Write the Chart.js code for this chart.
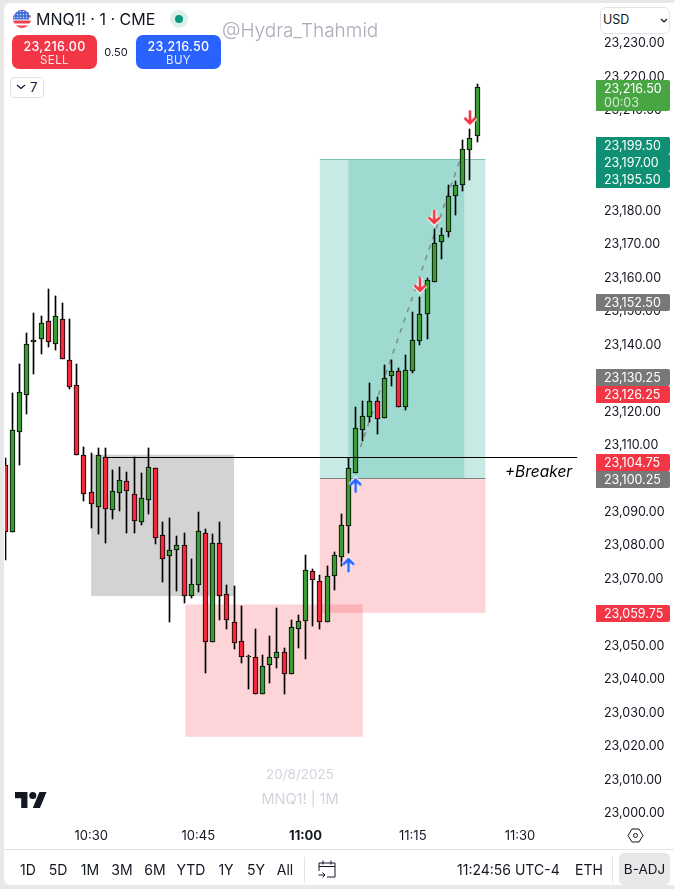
<!DOCTYPE html>
<html>
<head>
<meta charset="utf-8">
<title>MNQ1! 1 CME</title>
<script src="https://cdn.jsdelivr.net/npm/chart.js@4"></script>
<style>
html, body { margin: 0; padding: 0; width: 674px; height: 889px; overflow: hidden; background: #e8e8e8; font-family: Inter, sans-serif; color: #131722; }
#panel { position: absolute; left: 4px; top: 3px; width: 670px; height: 882px; background: #fff; border-radius: 6px 0 0 6px; }
#chartBox { position: absolute; left: 0; top: 0; width: 674px; height: 849px; }
.t { position: absolute; white-space: nowrap; line-height: 1; }
.c { transform: translateX(-50%); text-align: center; }
.btn { position: absolute; top: 35px; width: 85px; height: 34px; border-radius: 7px; color: #fff; }
.btn .p { position: absolute; left: 0; right: 0; top: 4px; text-align: center; font-size: 12.5px; font-weight: 500; letter-spacing: 0.35px; }
.btn .l { position: absolute; left: 0; right: 0; top: 18px; text-align: center; font-size: 11.5px; opacity: .85; letter-spacing: 0.4px; }
.range { top: 863px; font-size: 14px; }
</style>
</head>
<body>
<div id="panel"></div>
<div id="chartBox"><canvas id="priceChart" width="674" height="849"></canvas></div>

<!-- header -->
<svg style="position:absolute;left:13px;top:10px" width="18" height="18" viewBox="0 0 18 18">
  <defs>
    <clipPath id="fl"><circle cx="9" cy="9" r="9"/></clipPath>
    <pattern id="stars" width="3" height="3" patternUnits="userSpaceOnUse"><circle cx="1.5" cy="1.5" r=".7" fill="#dfe7fb"/></pattern>
  </defs>
  <g clip-path="url(#fl)">
    <rect width="18" height="18" fill="#fff"/>
    <rect y="0" width="18" height="2.5" fill="#f0404f"/><rect y="5" width="18" height="2.5" fill="#f0404f"/>
    <rect y="10.5" width="18" height="3" fill="#f0404f"/><rect y="15.5" width="18" height="3" fill="#f0404f"/>
    <rect width="16" height="9.5" fill="#3f6fd8"/>
    <rect width="16" height="9.5" fill="url(#stars)"/>
  </g>
</svg>
<div class="t" style="left:36px;top:11px;font-size:16px">MNQ1! · 1 · CME</div>
<div style="position:absolute;left:170px;top:10px;width:18px;height:18px;border-radius:50%;background:#dcefeb"></div>
<div style="position:absolute;left:175px;top:15px;width:8px;height:8px;border-radius:50%;background:#089981"></div>
<div class="btn" style="left:12px;background:#f23645"><div class="p">23,216.00</div><div class="l">SELL</div></div>
<div class="t c" style="left:116px;top:47px;font-size:11px">0.50</div>
<div class="btn" style="left:136px;background:#2962ff"><div class="p">23,216.50</div><div class="l">BUY</div></div>
<div class="t" style="left:222px;top:21px;font-size:19px;font-weight:300;color:#a9adb8">@Hydra_Thahmid</div>
<div style="position:absolute;left:10px;top:77px;width:32px;height:19px;border:1px solid #dfe1e6;border-radius:4px;background:#fff"></div>
<svg style="position:absolute;left:16px;top:84px" width="10" height="6"><path d="M1 1l4 3.5L9 1" fill="none" stroke="#131722" stroke-width="1.2"/></svg>
<div class="t" style="left:30px;top:81px;font-size:13px">7</div>

<div style="position:absolute;left:600px;top:7px;width:68px;height:25px;border:1px solid #e0e3eb;border-radius:6px;background:#fff"></div>
<div class="t" style="left:603px;top:14px;font-size:12.5px">USD</div>
<svg style="position:absolute;left:660px;top:18px" width="8" height="6"><path d="M1 1l3 3 3-3" fill="none" stroke="#131722" stroke-width="1.2"/></svg>

<!-- watermark and logo -->
<div class="t c" style="left:300px;top:768px;font-size:13.5px;color:#d1d4dc">20/8/2025</div>
<div class="t c" style="left:300px;top:792px;font-size:14.5px;color:#d1d4dc">MNQ1! | 1M</div>
<svg style="position:absolute;left:15px;top:789px" width="32" height="22" viewBox="0 2 36 22">
  <path d="M14 22H7V11H0V4h14v18zM28 22h-8l7.5-18h8L28 22z" fill="#131722"/><circle cx="20" cy="8" r="4" fill="#131722"/>
</svg>
<svg style="position:absolute;left:627px;top:827px" width="17" height="17" viewBox="0 0 17 17">
  <path d="M5 2h7l4 6.5-4 6.5H5L1 8.5z" fill="none" stroke="#131722"/><circle cx="8.5" cy="8.5" r="2" fill="none" stroke="#131722"/>
</svg>

<!-- bottom bar -->
<div style="position:absolute;left:4px;right:0;top:849px;height:1px;background:#e0e3eb"></div>
<div class="t c range" style="left:28px">1D</div>
<div class="t c range" style="left:58px">5D</div>
<div class="t c range" style="left:90px">1M</div>
<div class="t c range" style="left:122px">3M</div>
<div class="t c range" style="left:155px">6M</div>
<div class="t c range" style="left:191px">YTD</div>
<div class="t c range" style="left:226px">1Y</div>
<div class="t c range" style="left:256px">5Y</div>
<div class="t c range" style="left:285px">All</div>
<div style="position:absolute;left:304px;top:857px;width:1px;height:26px;background:#e0e3eb"></div>
<svg style="position:absolute;left:318px;top:859px" width="18" height="20" viewBox="0 0 18 20">
  <path d="M1 12V4h16v14H9M1 7.5h16M5 1.5v4M13 1.5v4M0.5 16h6M4.5 13.5L7 16l-2.5 2.5" fill="none" stroke="#131722"/>
</svg>
<div class="t" style="left:457px;top:863px;font-size:14px">11:24:56 UTC-4</div>
<div class="t" style="left:575px;top:863px;font-size:14px">ETH</div>
<div style="position:absolute;left:612px;top:857px;width:1px;height:26px;background:#e0e3eb"></div>
<div style="position:absolute;left:619px;top:853px;width:51px;height:32px;border-radius:5px;background:#e8e8e8"></div>
<div class="t c" style="left:644.5px;top:863px;font-size:13.5px">B-ADJ</div>

<script>
// candles, 1 minute each
const candleTimes = [
    '10:18', '10:19', '10:20', '10:21', '10:22', '10:23', '10:24', '10:25', '10:26', '10:27', '10:28', '10:29',
    '10:30', '10:31', '10:32', '10:33', '10:34', '10:35', '10:36', '10:37', '10:38', '10:39', '10:40', '10:41',
    '10:42', '10:43', '10:44', '10:45', '10:46', '10:47', '10:48', '10:49', '10:50', '10:51', '10:52', '10:53',
    '10:54', '10:55', '10:56', '10:57', '10:58', '10:59', '11:00', '11:01', '11:02', '11:03', '11:04', '11:05',
    '11:06', '11:07', '11:08', '11:09', '11:10', '11:11', '11:12', '11:13', '11:14', '11:15', '11:16', '11:17',
    '11:18', '11:19', '11:20', '11:21', '11:22', '11:23', '11:24'
];
const opens = [
    23103.75, 23083.75, 23113.5, 23124.5, 23140.5, 23141.25, 23146.75, 23139.75, 23147.25, 23135, 23127.5, 23106.5,
    23095.5, 23091, 23106, 23090.25, 23095.25, 23099, 23095, 23086.5, 23093.25, 23102.75, 23082.75, 23076.5,
    23078.25, 23079.75, 23064.5, 23067.75, 23083.25, 23050.75, 23080.5, 23065, 23056.75, 23051, 23046.5, 23046.25,
    23035.25, 23044, 23046, 23047.75, 23041.25, 23054.75, 23057, 23072, 23069, 23056.75, 23070.5, 23076.25,
    23085.5, 23101.25, 23114, 23118, 23122.75, 23117.75, 23130.25, 23131.75, 23121, 23131.75, 23140.75, 23148.75,
    23158.25, 23170.25, 23173.25, 23184, 23187.25, 23197.75, 23202
];
const highs = [
    23105.75, 23125.25, 23133.75, 23143, 23149, 23148.25, 23156.25, 23154, 23152, 23147.25, 23133.75, 23109,
    23107.25, 23108.75, 23108.75, 23102.25, 23103, 23101.5, 23106, 23101.25, 23108.75, 23102.75, 23086.5, 23087.75,
    23082.5, 23083.25, 23075.5, 23089.5, 23084.5, 23083, 23086.5, 23067.75, 23067.5, 23061.5, 23047, 23054.75,
    23047, 23052.5, 23061, 23049, 23057.5, 23058.75, 23076.75, 23072.5, 23070.75, 23073.5, 23077.75, 23089,
    23105.75, 23121, 23122.75, 23128, 23124, 23133.5, 23135, 23132.5, 23136.5, 23149.5, 23153.75, 23159.5,
    23174, 23174.5, 23187.25, 23188.5, 23200.75, 23204, 23217.5
];
const lows = [
    23075.25, 23083.75, 23103.75, 23119, 23130.75, 23136.75, 23139, 23138, 23135.25, 23126.5, 23106.5, 23093,
    23084.75, 23083, 23080.5, 23087.5, 23090, 23083.25, 23083.25, 23085.75, 23089, 23080, 23068.75, 23056.75,
    23066, 23062.5, 23064, 23065.75, 23041.5, 23050.75, 23057.5, 23054.75, 23048.75, 23044.5, 23036.75, 23035.25,
    23035.25, 23038.5, 23043, 23035.25, 23041.25, 23049, 23045.75, 23055.5, 23054.75, 23056.75, 23066.25, 23073.5,
    23077.5, 23101.25, 23110.75, 23116.5, 23113, 23117.75, 23127.25, 23121, 23120, 23131, 23139.5, 23141.25,
    23158.25, 23165.25, 23171.75, 23178.25, 23185.5, 23188.75, 23200
];
const closes = [
    23083.75, 23114, 23125.5, 23139.75, 23141, 23146, 23140.5, 23148.25, 23135.25, 23127, 23106.5, 23095,
    23092, 23106.5, 23090.5, 23096, 23099.25, 23096, 23087, 23093.75, 23103, 23082, 23075.5, 23078.25,
    23079.75, 23064.5, 23068, 23084, 23050.75, 23080.5, 23064.5, 23057.5, 23050.5, 23046.25, 23046.5, 23035.25,
    23043.5, 23046.25, 23047.75, 23041.25, 23055.25, 23057, 23072.25, 23069.25, 23056.75, 23070.5, 23076.75, 23085.75,
    23102.75, 23114.75, 23118.25, 23122.75, 23117.5, 23129.5, 23131.75, 23121, 23132, 23141, 23148.75, 23159,
    23170, 23172.5, 23184, 23187.25, 23198, 23201.25, 23216.5
];

// right axis tags, top to bottom
const tagPrices = [23216.5, 23199.5, 23197, 23195.5, 23152.5, 23130.25, 23126.25, 23104.75, 23100.25, 23059.75];
const tagKinds = ['last', 'teal', 'teal', 'teal', 'gray', 'gray', 'red', 'red', 'gray', 'red'];
const countdown = '00:03';

// drawn zones: [from, to, top price, bottom price]
const grayZone = ['10:30', '10:50', 23106.75, 23064.5];
const demandZone = ['10:43.2', '11:08', 23062, 23022.5];
const targetZone = ['11:02', '11:25.15', 23195, 23099.75];
const targetInner = ['11:06', '11:22.2', 23195, 23099.75];
const stopZone = ['11:02', '11:25.15', 23099.75, 23059.5];
const breakerTimes = ['10:32', '11:38'];
const breakerPrice = 23105.9;
const breakerLabel = '+Breaker';

// dashed line across the run up
const pathTimes = ['11:07.67', '11:21.6'];
const pathPrices = [23109, 23194.75];

// trade arrows
const buyTimes = ['11:07', '11:06'];
const buyPrices = [23097.5, 23073.75];
const sellTimes = ['11:23', '11:18', '11:16'];
const sellPrices = [23207.5, 23177.75, 23157.5];

const UP = '#3d9b35', DOWN = '#f02a3c', TEAL = '#0f8f74', GRAY = '#787878', RED = '#f23645', LAST = '#49a544';

function mins(s) {
    const p = s.split(':');
    return +p[0] * 60 + +p[1];
}
function fmtPrice(v) {
    return v.toLocaleString('en-US', { minimumFractionDigits: 2, maximumFractionDigits: 2 });
}
function fmtTime(v) {
    return Math.floor(v / 60) + ':' + String(v % 60).padStart(2, '0');
}

function makeArrow(color, up) {
    const c = document.createElement('canvas');
    c.width = 18;
    c.height = 20;
    const g = c.getContext('2d');
    if (!up) { g.translate(0, 20); g.scale(1, -1); }
    const shape = function () {
        g.beginPath();
        g.moveTo(9, 17);
        g.lineTo(9, 4);
        g.moveTo(3.5, 9.5);
        g.lineTo(9, 4);
        g.lineTo(14.5, 9.5);
        g.stroke();
    };
    g.strokeStyle = 'rgba(255,255,255,.9)';
    g.lineWidth = 5;
    shape();
    g.strokeStyle = color;
    g.lineWidth = 2.6;
    shape();
    return c;
}

// snap bars to whole pixels so the candles stay crisp
const snapBars = {
    id: 'snapBars',
    afterDatasetsUpdate(chart) {
        chart.data.datasets.forEach((ds, i) => {
            if (ds.type !== 'bar') return;
            chart.getDatasetMeta(i).data.forEach(el => {
                el.x = Math.round(el.x - 0.5) + 0.5;
                el.y = Math.round(el.y);
                el.base = Math.round(el.base);
                if (el.y === el.base) el.base = el.y + 1;
                el.height = el.base - el.y;
            });
        });
    }
};

const zones = {
    id: 'zones',
    beforeDatasetsDraw(chart) {
        const { ctx, scales: { x, y }, chartArea } = chart;
        const box = (z, color) => {
            const x0 = x.getPixelForValue(mins(z[0]));
            const x1 = x.getPixelForValue(mins(z[1]));
            const y0 = y.getPixelForValue(z[2]);
            const y1 = y.getPixelForValue(z[3]);
            ctx.fillStyle = color;
            ctx.fillRect(x0, y0, x1 - x0, y1 - y0);
        };
        ctx.save();
        ctx.beginPath();
        ctx.rect(chartArea.left, chartArea.top, chartArea.width, chartArea.height);
        ctx.clip();
        box(grayZone, '#d3d3d3');
        box(demandZone, 'rgba(247,82,95,.25)');
        box(stopZone, 'rgba(247,82,95,.25)');
        box(targetZone, 'rgba(34,171,148,.25)');
        box(targetInner, 'rgba(34,171,148,.25)');

        const tx0 = x.getPixelForValue(mins(targetZone[0]));
        const tx1 = x.getPixelForValue(mins(targetZone[1]));
        const topY = Math.round(y.getPixelForValue(targetZone[2])) + 0.5;
        const entryY = Math.round(y.getPixelForValue(targetZone[3])) + 0.5;
        ctx.lineWidth = 1;
        ctx.strokeStyle = '#7fc4b8';
        ctx.beginPath();
        ctx.moveTo(tx0, topY);
        ctx.lineTo(tx1, topY);
        ctx.stroke();
        ctx.strokeStyle = '#808080';
        ctx.beginPath();
        ctx.moveTo(tx0, entryY);
        ctx.lineTo(tx1, entryY);
        ctx.stroke();
        ctx.restore();
    },
    afterDatasetsDraw(chart) {
        const { ctx, scales: { x, y } } = chart;
        const by = Math.round(y.getPixelForValue(breakerPrice)) + 0.5;
        const x0 = x.getPixelForValue(mins(breakerTimes[0]));
        const x1 = x.getPixelForValue(mins(breakerTimes[1]));
        ctx.save();
        ctx.strokeStyle = '#000';
        ctx.lineWidth = 1;
        ctx.beginPath();
        ctx.moveTo(x0, by);
        ctx.lineTo(x1, by);
        ctx.stroke();
        ctx.fillStyle = '#000';
        ctx.font = 'italic 15.5px Inter, sans-serif';
        ctx.textAlign = 'right';
        ctx.textBaseline = 'middle';
        ctx.fillText(breakerLabel, x1 - 5, by + 15);
        ctx.restore();
    }
};

const priceTags = {
    id: 'priceTags',
    afterDraw(chart) {
        const { ctx, scales: { y }, chartArea } = chart;
        const colors = { last: LAST, teal: TEAL, gray: GRAY, red: RED };
        const left = chartArea.right;
        let next = -100;
        ctx.save();
        ctx.textBaseline = 'middle';
        ctx.textAlign = 'left';
        tagPrices.forEach((p, i) => {
            const h = tagKinds[i] === 'last' ? 31 : 17;
            const top = Math.max(Math.round(y.getPixelForValue(p) - 7), next);
            next = top + h;
            ctx.fillStyle = colors[tagKinds[i]];
            ctx.beginPath();
            ctx.roundRect(left, top, 74, h, [0, 2, 2, 0]);
            ctx.fill();
            ctx.fillStyle = '#fff';
            ctx.font = '12.5px Inter, sans-serif';
            ctx.fillText(fmtPrice(p), left + 8, top + 9);
            if (tagKinds[i] === 'last') {
                ctx.fillStyle = 'rgba(255,255,255,.75)';
                ctx.fillText(countdown, left + 8, top + 23);
            }
        });
        ctx.restore();
    }
};

const ctxPrice = document.getElementById('priceChart');
new Chart(ctxPrice, {
    type: 'bar',
    data: {
        datasets: [
            {
                type: 'line',
                data: pathTimes.map((t, i) => ({ x: mins(t), y: pathPrices[i] })),
                borderColor: 'rgba(125,125,125,.85)',
                borderWidth: 1.5,
                borderDash: [5, 6],
                pointRadius: 0,
                order: 4
            },
            {
                type: 'bar',
                data: candleTimes.map((t, i) => ({ x: mins(t), y: [lows[i], highs[i]] })),
                backgroundColor: '#000',
                borderWidth: 0,
                barThickness: 1,
                grouped: false,
                order: 3
            },
            {
                type: 'bar',
                data: candleTimes.map((t, i) => ({ x: mins(t), y: [opens[i], closes[i]] })),
                backgroundColor: candleTimes.map((t, i) => closes[i] >= opens[i] ? UP : DOWN),
                borderColor: '#000',
                borderWidth: 1,
                borderSkipped: false,
                barThickness: 5,
                grouped: false,
                order: 2
            },
            {
                type: 'scatter',
                data: buyTimes.map((t, i) => ({ x: mins(t), y: buyPrices[i] })),
                pointStyle: makeArrow('#2962ff', true),
                order: 1
            },
            {
                type: 'scatter',
                data: sellTimes.map((t, i) => ({ x: mins(t), y: sellPrices[i] })),
                pointStyle: makeArrow('#f23645', false),
                order: 1
            }
        ]
    },
    options: {
        responsive: false,
        animation: false,
        events: [],
        layout: { padding: { left: 4, top: 30, right: 0, bottom: 0 } },
        plugins: {
            legend: { display: false },
            tooltip: { enabled: false }
        },
        scales: {
            x: {
                type: 'linear',
                offset: false,
                min: 617.95,
                max: 700.63,
                afterFit(scale) { scale.height = 27; },
                grid: { display: false, drawTicks: false },
                border: { display: false },
                ticks: {
                    stepSize: 15,
                    includeBounds: false,
                    autoSkip: false,
                    maxRotation: 0,
                    padding: 6,
                    color: '#131722',
                    font: ctx => ({ family: 'Inter, sans-serif', size: 13, weight: ctx.tick && ctx.tick.value === 660 ? 'bold' : 'normal' }),
                    callback: v => fmtTime(v)
                }
            },
            y: {
                position: 'right',
                min: 22997.03,
                max: 23233.58,
                afterFit(scale) { scale.width = 78; },
                grid: { display: false, drawTicks: false },
                border: { display: false },
                ticks: {
                    stepSize: 10,
                    includeBounds: false,
                    autoSkip: false,
                    padding: 8,
                    labelOffset: 1.5,
                    color: '#131722',
                    font: { family: 'Inter, sans-serif', size: 12.5 },
                    callback: v => fmtPrice(v)
                }
            }
        }
    },
    plugins: [zones, snapBars, priceTags]
});
</script>
</body>
</html>
